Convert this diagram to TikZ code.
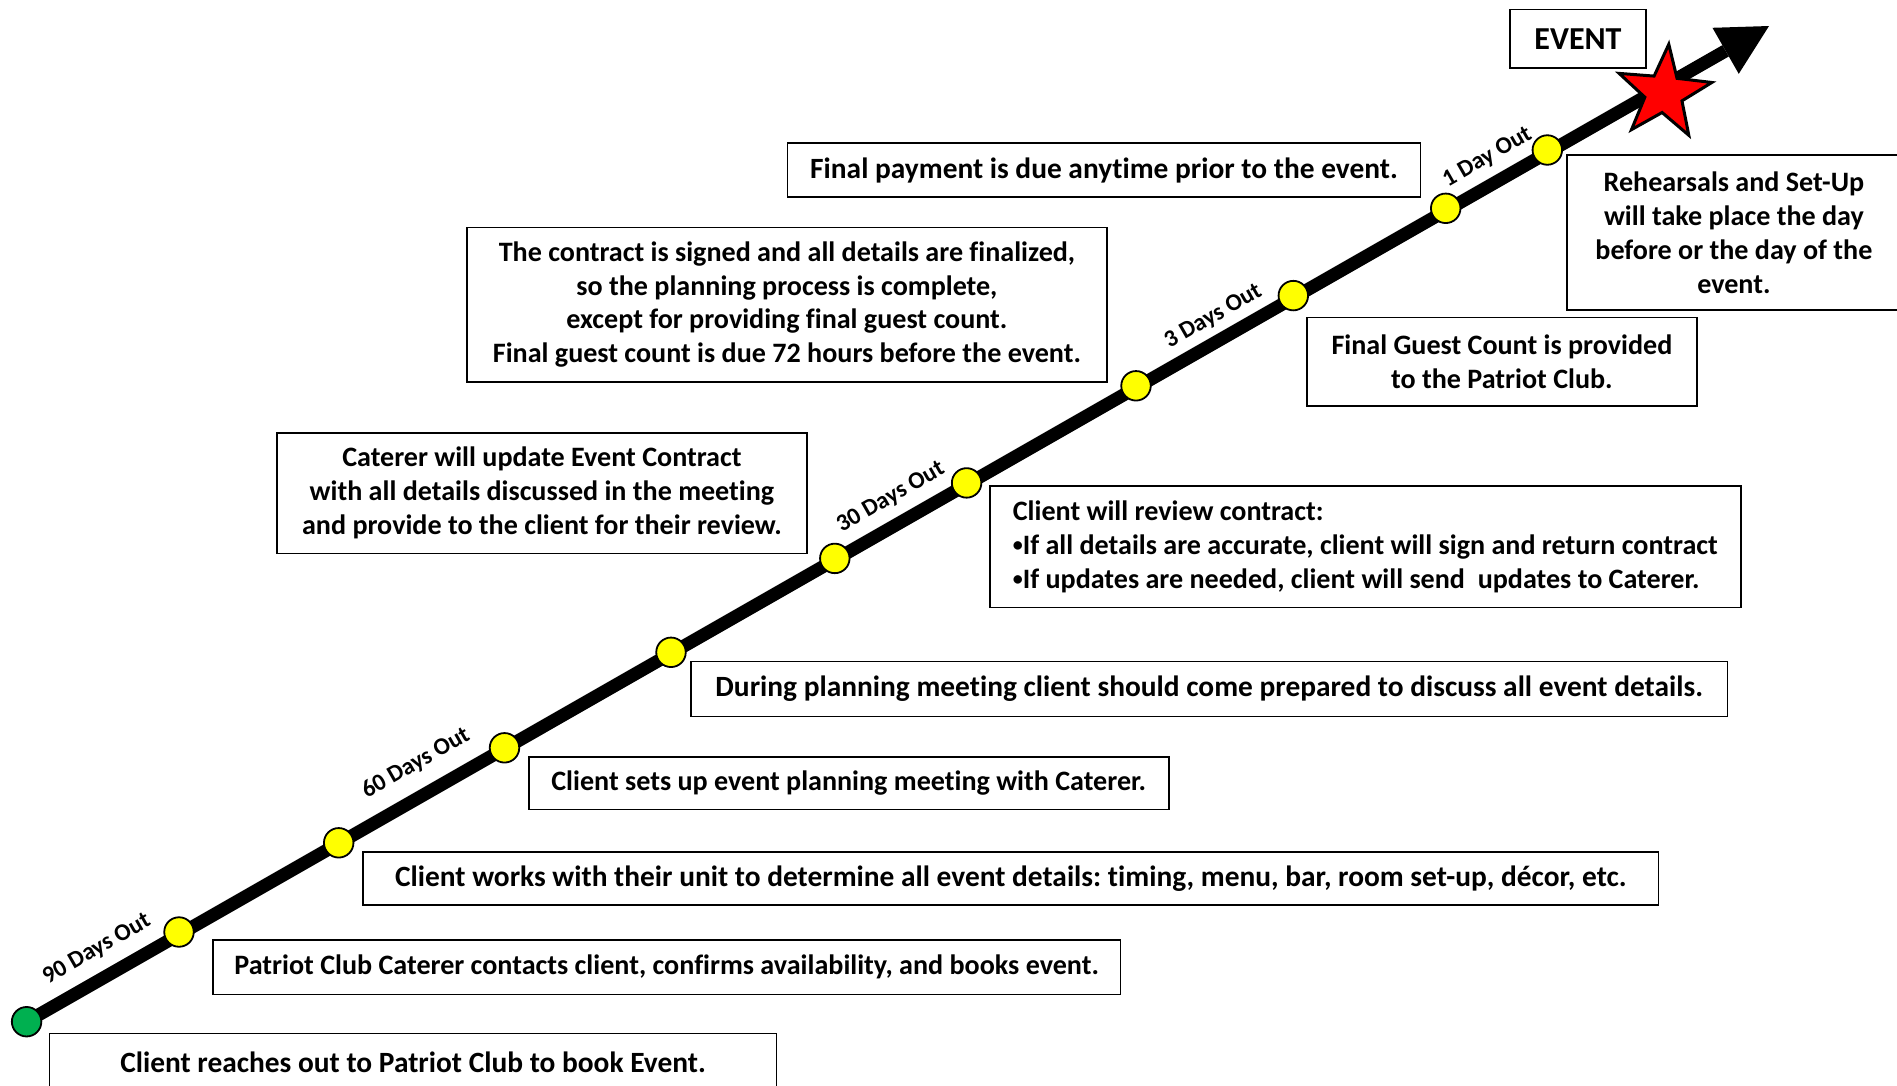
\documentclass[tikz,border=0pt]{standalone}
\usepackage{fontspec}
\setmainfont{Carlito}[Ligatures=NoCommon]
\usetikzlibrary{arrows.meta,shapes.geometric}
\definecolor{dotyellow}{RGB}{255,255,0}
\definecolor{dotgreen}{RGB}{0,176,80}
\definecolor{starred}{RGB}{255,0,0}
\pgfdeclarelayer{bg}
\pgfsetlayers{bg,main}
\newcommand{\smallbul}{\raisebox{2.5pt}{\fontsize{20}{20}\selectfont •}}
\begin{document}
\begin{tikzpicture}[x=1pt,y=-1pt,
  infobox/.style={draw=black, line width=1.6pt, fill=white, inner sep=0pt, align=center,
    font=\frenchspacing\bfseries\fontsize{29.4}{33.9}\selectfont},
  smallbox/.style={infobox, font=\frenchspacing\bfseries\fontsize{28.1}{33.9}\selectfont},
  milestone/.style={circle, draw=black, line width=1.8pt, fill=dotyellow, minimum size=29.5pt, inner sep=0pt},
  startdot/.style={milestone, fill=dotgreen},
  daylabel/.style={rotate=29.82, inner sep=0pt, font=\bfseries\fontsize{24}{28}\selectfont},
  timeline/.style={line width=13pt, -{Triangle[length=50pt,width=53pt,line width=0pt]}}]
\useasboundingbox (0,0) rectangle (1897,1085);

% text boxes
\node[infobox, minimum width=727pt, minimum height=57.7pt] (b1) at (413,1062.2)
  {Client reaches out to Patriot Club to book Event.};
\node[smallbox, minimum width=907.4pt, minimum height=54.4pt] (b2) at (666.6,967.2)
  {Patriot Club Caterer contacts client, confirms availability, and books event.};
\node[infobox, minimum width=1295.6pt, minimum height=53.3pt] (b3) at (1010.8,878.4)
  {Client works with their unit to determine all event details: timing, menu, bar, room set-up, décor, etc.};
\node[smallbox, minimum width=640pt, minimum height=52.5pt] (b4) at (848.7,783.4)
  {Client sets up event planning meeting with Caterer.};
\node[infobox, minimum width=1036.8pt, minimum height=55pt] (b5) at (1209.2,688.9)
  {During planning meeting client should come prepared to discuss all event details.};
\node[smallbox, align=left, minimum width=751pt, minimum height=121.3pt] (b6) at (1365.3,546.7)
  {Client will review contract:\\
   \smallbul If all details are accurate, client will sign and return contract\\
   \smallbul If updates are needed, client will send~ updates to Caterer.};
\node[smallbox, minimum width=530.3pt, minimum height=120.6pt] (b7) at (541.9,493)
  {Caterer will update Event Contract\\with all details discussed in the meeting\\and provide to the client for their review.};
\node[smallbox, minimum width=640.3pt, minimum height=154.4pt] (b8) at (786.9,304.5)
  {The contract is signed and all details are finalized,\\so the planning process is complete,\\except for providing final guest count.\\Final guest count is due 72 hours before the event.};
\node[infobox, minimum width=632.7pt, minimum height=54.4pt] (b9) at (1104,170)
  {Final payment is due anytime prior to the event.};
\node[smallbox, minimum width=390.3pt, minimum height=88.4pt] (b10) at (1501.9,361.5)
  {Final Guest Count is provided\\to the Patriot Club.};
\node[smallbox, minimum width=334.3pt, minimum height=155pt] (b11) at (1733.9,232.5)
  {Rehearsals and Set-Up\\will take place the day\\before or the day of the\\event.};
\node[infobox, minimum width=136pt, minimum height=58.7pt, font=\bfseries\fontsize{32}{38}\selectfont] (ev) at (1578,38.7)
  {EVENT};

% milestones
\node[startdot] (d0) at (26.6,1021.7) {};
\node[milestone] (d1) at (179,932) {};
\node[milestone] (d2) at (338.7,842.8) {};
\node[milestone] (d3) at (504.5,747.8) {};
\node[milestone] (d4) at (671,652.3) {};
\node[milestone] (d5) at (834.8,558.4) {};
\node[milestone] (d6) at (966.6,482.9) {};
\node[milestone] (d7) at (1136,385.8) {};
\node[milestone] (d8) at (1293.3,295.6) {};
\node[milestone] (d9) at (1445.7,208.3) {};
\node[milestone] (d10) at (1547.3,150) {};
\node[star, star points=5, star point ratio=2.5, minimum size=98pt, inner sep=0pt,
      draw=black, line width=3pt, fill=starred, rotate=-5.6] (st) at (1664,93) {};
\coordinate (tip) at (1769,26);

\begin{pgfonlayer}{bg}
  \draw[timeline] (d0.center) -- (tip);
\end{pgfonlayer}

% labels along the timeline
\node[daylabel] (l90) at (96.9,949.2) {90 Days Out};
\node[daylabel] (l60) at (416,763.3) {60 Days Out};
\node[daylabel] (l30) at (890.8,497.4) {30 Days Out};
\node[daylabel] (l3) at (1213.3,316.7) {3 Days Out};
\node[daylabel] (l1) at (1487.5,157.5) {1 Day Out};
\end{tikzpicture}
\end{document}
